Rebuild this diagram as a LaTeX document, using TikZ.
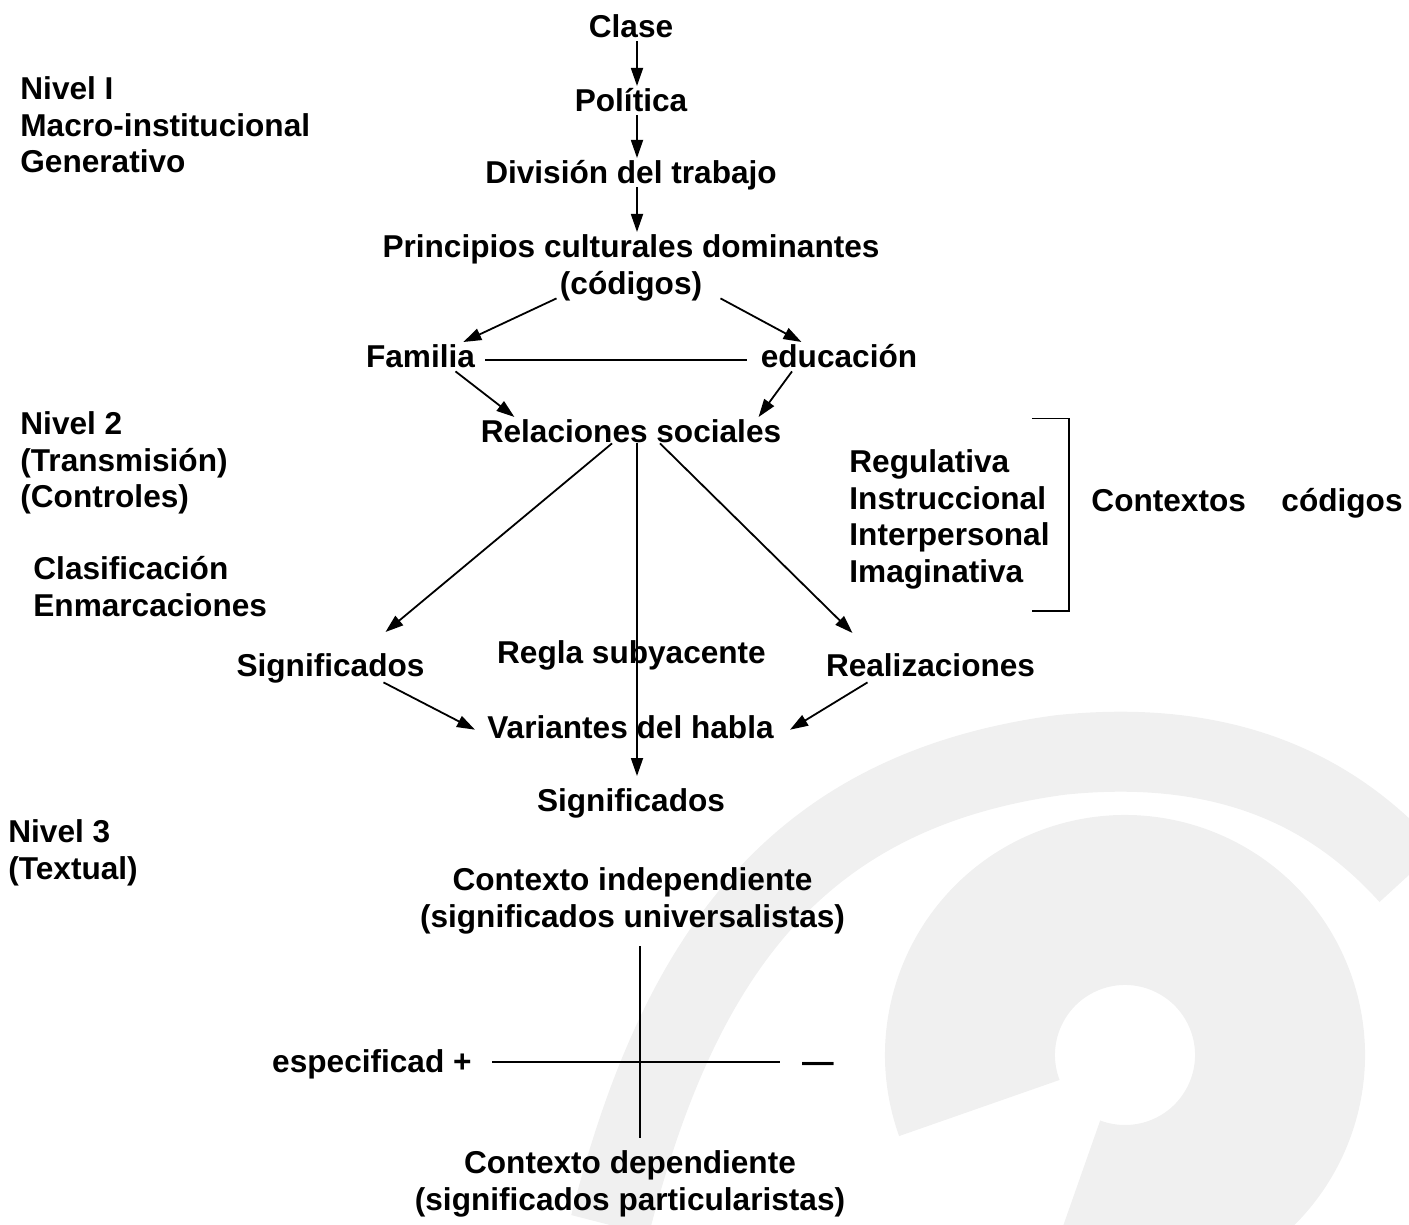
\documentclass[tikz,border=0pt]{standalone}
\usepackage{fontspec}
\setmainfont{Liberation Sans}
\usetikzlibrary{arrows.meta, calc}

\begin{document}
\begin{tikzpicture}[
    x=0.5pt, y=-0.5pt,
    txt/.style={font=\bfseries\fontsize{15.8}{18.25}\selectfont, inner sep=1.5pt,
                text height=11.3pt, text depth=0pt, anchor=base},
    blk/.style={font=\bfseries\fontsize{15.8}{18.25}\selectfont, inner sep=1.5pt},
    arrow/.style={-{Triangle[length=9pt, width=6pt]}, line width=0.9pt},
    link/.style={line width=0.9pt},
    marca/.style={black!6, line cap=butt},
]
\useasboundingbox (0,0) rectangle (1409,1225);
% marca de agua
\draw[marca, line width=40pt] (610,1225) .. controls (680,950) and (800,790) .. (1060,755)
    .. controls (1250,735) and (1350,810) .. (1409,875);
\draw[marca, line width=85pt] (1125,1055) ++(160:155) arc[start angle=160, end angle=470, radius=155];

\node[txt] (clase) at (631,38) {Clase};
\node[txt] (politica) at (631,112) {Política};
\node[txt] (division) at (631,184) {División del trabajo};
\node[txt] (principios) at (631,258) {Principios culturales dominantes};
\node[txt] (codigos) at (631,295) {(códigos)};
\node[txt] (familia) at (420.5,368) {Familia};
\node[txt] (educacion) at (839,368) {educación};
\node[txt] (relaciones) at (631,443) {Relaciones sociales};
\node[txt] (sigl) at (330.5,676) {Significados};
\node[txt] (regla) at (631.5,663) {Regla subyacente};
\node[txt] (realiz) at (930.5,676) {Realizaciones};
\node[txt] (variantes) at (630.5,738) {Variantes del habla};
\node[txt] (sigb) at (631,811) {Significados};

\node[blk, align=left, anchor=north west] (nivel1) at (17,73.4) {Nivel I\\Macro-institucional\\Generativo};
\node[blk, align=left, anchor=north west] (nivel2) at (17,408.4) {Nivel 2\\(Transmisión)\\(Controles)};
\node[blk, align=left, anchor=north west] (control) at (30,553.4) {Clasificación\\Enmarcaciones};
\node[blk, align=left, anchor=north west] (nivel3) at (5,816.4) {Nivel 3\\(Textual)};
\node[blk, align=left, anchor=north west] (reg) at (846,446.4) {Regulativa\\Instruccional\\Interpersonal\\Imaginativa};
\node[txt, anchor=base east] (contextos) at (1406,511) {Contextos\hspace{17.75pt}códigos};

\node[blk, align=center, anchor=north] (ctxind) at (632.5,864.4) {Contexto independiente\\(significados universalistas)};
\node[blk, align=center, anchor=north] (ctxdep) at (630,1147.4) {Contexto dependiente\\(significados particularistas)};
\node[txt, anchor=base east] (espec) at (475,1072) {especificad +};
\node[txt] (menos) at (818,1072) {—};
\coordinate (cruce) at (640,1062);

\draw[arrow] ($(clase.south)+(6,0)$) -- ($(politica.north)+(6,0)$);
\draw[arrow] ($(politica.south)+(6,0)$) -- ($(division.north)+(6,0)$);
\draw[arrow] ($(division.south)+(6,0)$) -- ($(principios.north)+(6,0)$);
\draw[arrow] (codigos.south west) -- ($(familia.north east)+(-15,0)$);
\draw[arrow] ($(codigos.south east)+(15,0)$) -- ($(educacion.north west)+(44,0)$);
\draw[link] ($(familia.east)+(7,3)$) -- ($(educacion.west)+(-10,3)$);
\draw[arrow] ($(familia.south)+(35,0)$) -- ($(relaciones.north west)+(37,0)$);
\draw[arrow] ($(educacion.south)+(-47,0)$) -- ($(relaciones.north east)+(-26,0)$);
\draw[arrow] ($(relaciones.south)+(-19,-3)$) -- ($(sigl.north)+(55,-18)$);
\draw[arrow] ($(relaciones.south)+(6,-3)$) -- ($(sigb.north)+(6,-9)$);
\draw[arrow] ($(relaciones.south)+(29,-3)$) -- ($(realiz.north)+(-78,-17)$);
\draw[arrow] ($(sigl.south)+(53,3)$) -- ($(variantes.west)+(-9,3)$);
\draw[arrow] ($(realiz.south)+(-63,3)$) -- ($(variantes.east)+(13,3)$);

\draw[link] ($(reg.north east)+(-21,-28)$) -- ++(37,0) |- ($(reg.south east)+(-21,19)$);

\draw[link] ($(ctxind.south -| cruce)+(0,9)$) -- ($(ctxdep.north -| cruce)+(0,-9)$);
\draw[link] ($(espec.east |- cruce)+(17,0)$) -- ($(menos.west |- cruce)+(-19,0)$);
\end{tikzpicture}
\end{document}
